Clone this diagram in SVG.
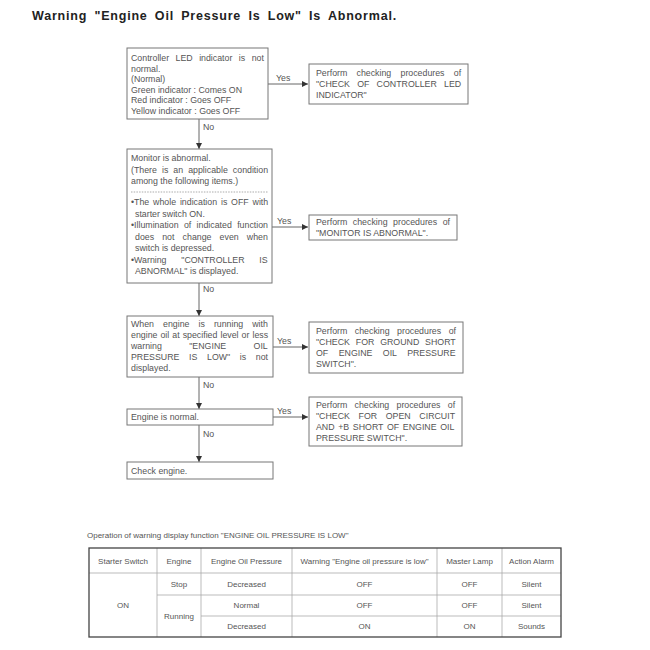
<svg xmlns="http://www.w3.org/2000/svg" width="650" height="650" viewBox="0 0 650 650">
<defs>
<marker id="ah" viewBox="0 0 10 10" refX="10" refY="5" markerWidth="8" markerHeight="6" markerUnits="userSpaceOnUse" orient="auto">
<path d="M0,0 L10,5 L0,10 z" fill="#333"/>
</marker>
<style>
.t{font-family:"Liberation Sans",Arial,sans-serif;font-size:8.8px;fill:#555}
.s{font-size:8px}
.c{text-anchor:middle}
.title{font-family:"Liberation Sans",Arial,sans-serif;font-size:12.5px;font-weight:bold;fill:#222;letter-spacing:0.8px;word-spacing:3px}
.box{fill:#fff;stroke:#777;stroke-width:1}
.ln{stroke:#666;stroke-width:1;fill:none}
.tin{stroke:#aaa;stroke-width:0.8;fill:none}
.tout{stroke:#444;stroke-width:1.3;fill:none}
</style>
</defs>
<rect width="650" height="650" fill="#fff"/>
<text class="title" x="32" y="20">Warning "Engine Oil Pressure Is Low" Is Abnormal.</text>

<g id="connectors">
<line class="ln" x1="268" y1="84" x2="308" y2="84" marker-end="url(#ah)"/>
<line class="ln" x1="199" y1="119" x2="199" y2="149" marker-end="url(#ah)"/>
<line class="ln" x1="272" y1="227" x2="308" y2="227" marker-end="url(#ah)"/>
<line class="ln" x1="199" y1="283" x2="199" y2="316" marker-end="url(#ah)"/>
<line class="ln" x1="273" y1="347" x2="308" y2="347" marker-end="url(#ah)"/>
<line class="ln" x1="199" y1="377" x2="199" y2="409" marker-end="url(#ah)"/>
<line class="ln" x1="273" y1="417" x2="308" y2="417" marker-end="url(#ah)"/>
<line class="ln" x1="199" y1="425" x2="199" y2="462" marker-end="url(#ah)"/>
<text class="t" x="276" y="81">Yes</text>
<text class="t" x="203" y="130">No</text>
<text class="t" x="277" y="224">Yes</text>
<text class="t" x="203" y="292">No</text>
<text class="t" x="277" y="344">Yes</text>
<text class="t" x="203" y="388">No</text>
<text class="t" x="277" y="414">Yes</text>
<text class="t" x="203" y="437">No</text>
</g>

<g id="n1">
<rect class="box" x="127" y="48" width="141" height="71"/>
<text class="t" x="131" y="61" style="word-spacing:4px">Controller LED indicator is not</text>
<text class="t" x="131" y="71.5">normal.</text>
<text class="t" x="131" y="82">(Normal)</text>
<text class="t" x="131" y="92.5">Green indicator : Comes ON</text>
<text class="t" x="131" y="103">Red indicator : Goes OFF</text>
<text class="t" x="131" y="113.5">Yellow indicator : Goes OFF</text>
</g>

<g id="r1">
<rect class="box" x="309" y="64" width="159" height="40"/>
<text class="t" x="316" y="76" style="word-spacing:6.8px">Perform checking procedures of</text>
<text class="t" x="316" y="87" style="word-spacing:4.8px">"CHECK OF CONTROLLER LED</text>
<text class="t" x="316" y="98">INDICATOR"</text>
</g>

<g id="n2">
<rect class="box" x="127" y="149" width="145" height="134"/>
<text class="t" x="131" y="161">Monitor is abnormal.</text>
<text class="t" x="131" y="172.5" style="word-spacing:2.6px">(There is an applicable condition</text>
<text class="t" x="131" y="184">among the following items.)</text>
<line x1="131" y1="192" x2="268" y2="192" stroke="#888" stroke-width="0.7" stroke-dasharray="1.5,1.2"/>
<text class="t" x="131" y="205" style="word-spacing:1.4px">•The whole indication is OFF with</text>
<text class="t" x="135" y="216.5">starter switch ON.</text>
<text class="t" x="131" y="228" style="word-spacing:2.9px">•Illumination of indicated function</text>
<text class="t" x="135" y="239.5" style="word-spacing:5.7px">does not change even when</text>
<text class="t" x="135" y="251">switch is depressed.</text>
<text class="t" x="131" y="262.5" style="word-spacing:12.3px">•Warning "CONTROLLER IS</text>
<text class="t" x="135" y="274">ABNORMAL" is displayed.</text>
</g>

<g id="r2">
<rect class="box" x="309" y="215" width="148" height="25"/>
<text class="t" x="316" y="225" style="word-spacing:3.1px">Perform checking procedures of</text>
<text class="t" x="316" y="236">"MONITOR IS ABNORMAL".</text>
</g>

<g id="n3">
<rect class="box" x="127" y="316" width="146" height="61"/>
<text class="t" x="131" y="327" style="word-spacing:6.6px">When engine is running with</text>
<text class="t" x="131" y="338" style="word-spacing:0.6px">engine oil at specified level or less</text>
<text class="t" x="131" y="349" style="word-spacing:25px">warning "ENGINE OIL</text>
<text class="t" x="131" y="360" style="word-spacing:7.2px">PRESSURE IS LOW" is not</text>
<text class="t" x="131" y="371">displayed.</text>
</g>

<g id="r3">
<rect class="box" x="309" y="322" width="154" height="51"/>
<text class="t" x="316" y="334" style="word-spacing:5.1px">Perform checking procedures of</text>
<text class="t" x="316" y="345" style="word-spacing:3.4px">"CHECK FOR GROUND SHORT</text>
<text class="t" x="316" y="356" style="word-spacing:8px">OF ENGINE OIL PRESSURE</text>
<text class="t" x="316" y="367">SWITCH".</text>
</g>

<g id="n4">
<rect class="box" x="127" y="409" width="146" height="16"/>
<text class="t" x="131" y="420">Engine is normal.</text>
</g>

<g id="r4">
<rect class="box" x="309" y="397" width="153" height="49"/>
<text class="t" x="316" y="408" style="word-spacing:4.8px">Perform checking procedures of</text>
<text class="t" x="316" y="419" style="word-spacing:6.2px">"CHECK FOR OPEN CIRCUIT</text>
<text class="t" x="316" y="430" style="word-spacing:1.2px">AND +B SHORT OF ENGINE OIL</text>
<text class="t" x="316" y="441">PRESSURE SWITCH".</text>
</g>

<g id="n5">
<rect class="box" x="127" y="462" width="146" height="17"/>
<text class="t" x="131" y="474">Check engine.</text>
</g>

<g id="table">
<text class="t s" x="87" y="538">Operation of warning display function "ENGINE OIL PRESSURE IS LOW"</text>
<line class="tin" x1="157" y1="548" x2="157" y2="637"/>
<line class="tin" x1="201" y1="548" x2="201" y2="637"/>
<line class="tin" x1="292" y1="548" x2="292" y2="637"/>
<line class="tin" x1="437" y1="548" x2="437" y2="637"/>
<line class="tin" x1="502" y1="548" x2="502" y2="637"/>
<line class="tin" x1="89" y1="573" x2="561" y2="573"/>
<line class="tin" x1="157" y1="595" x2="561" y2="595"/>
<line class="tin" x1="201" y1="616" x2="561" y2="616"/>
<rect class="tout" x="89" y="548" width="472" height="89"/>
<text class="t s c" x="123" y="564">Starter Switch</text>
<text class="t s c" x="179" y="564">Engine</text>
<text class="t s c" x="246.5" y="564">Engine Oil Pressure</text>
<text class="t s c" x="364.5" y="564">Warning "Engine oil pressure is low"</text>
<text class="t s c" x="469.5" y="564">Master Lamp</text>
<text class="t s c" x="531.5" y="564">Action Alarm</text>
<text class="t s c" x="123" y="608">ON</text>
<text class="t s c" x="179" y="587">Stop</text>
<text class="t s c" x="179" y="619">Running</text>
<text class="t s c" x="246.5" y="587">Decreased</text>
<text class="t s c" x="246.5" y="608">Normal</text>
<text class="t s c" x="246.5" y="629">Decreased</text>
<text class="t s c" x="364.5" y="587">OFF</text>
<text class="t s c" x="364.5" y="608">OFF</text>
<text class="t s c" x="364.5" y="629">ON</text>
<text class="t s c" x="469.5" y="587">OFF</text>
<text class="t s c" x="469.5" y="608">OFF</text>
<text class="t s c" x="469.5" y="629">ON</text>
<text class="t s c" x="531.5" y="587">Silent</text>
<text class="t s c" x="531.5" y="608">Silent</text>
<text class="t s c" x="531.5" y="629">Sounds</text>
</g>
</svg>
